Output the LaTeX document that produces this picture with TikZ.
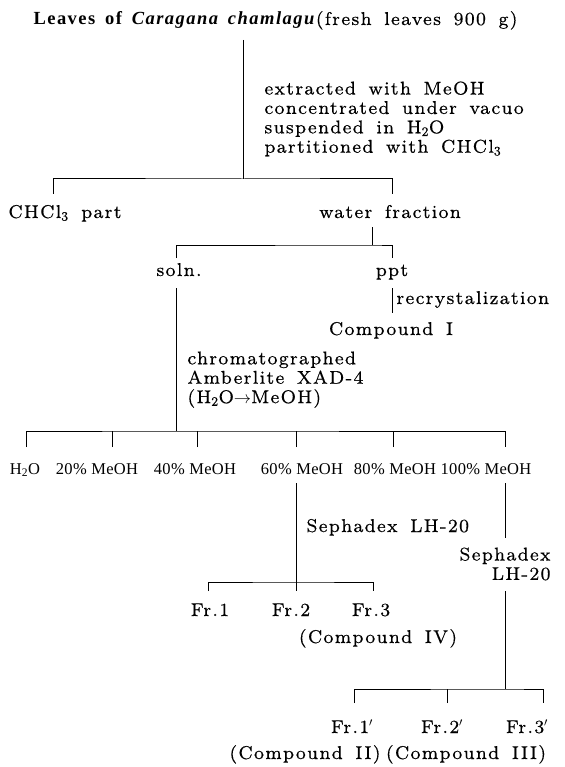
\documentclass[tikz,border=0pt]{standalone}
\usepackage{fontspec}
\setmainfont{lmroman8}[Extension=.otf, UprightFont=*-regular, BoldFont=lmroman10-bold, ItalicFont=lmroman10-italic, BoldItalicFont=lmroman10-bolditalic, LetterSpace=7.5, WordSpace=1.6, FakeBold=0.4]
\newfontfamily\titlefont{Liberation Serif}[LetterSpace=8, WordSpace=1.6]
\newfontfamily\labfont{Liberation Serif}[LetterSpace=2]
\newcommand\mainsz{\fontsize{18.5}{19.4}\selectfont}
\begin{document}
\begin{tikzpicture}[x=1pt,y=-1pt,line width=1pt,
  main/.style={inner sep=0pt, font=\mainsz},
  frac/.style={inner sep=0pt, font=\labfont\fontsize{16.5}{18}\selectfont, anchor=base}]
\useasboundingbox (0,0) rectangle (564,767);
% title
\node[inner sep=0pt, anchor=base west] (title) at (33,25)
  {{\titlefont\fontsize{18.5}{20}\selectfont\textbf{Leaves of \textit{Caragana chamlagu}}}{\mainsz(fresh leaves 900 g)}};
% level 1
\coordinate (t1) at (243,40);
\coordinate (j1) at (243,179);
\draw (t1) -- (j1);
\node[main, anchor=north west, align=left] (cond1) at (264,81)
  {extracted with MeOH\\concentrated under vacuo\\suspended in H\textsubscript{2}O\\partitioned with CHCl\textsubscript{3}};
\node[main, anchor=base west] (chcl) at (8,218) {CHCl\textsubscript{3} part};
\node[main, anchor=base] (water) at (390,218) {water fraction};
\coordinate (k1a) at (53,194);
\coordinate (k1b) at (392,194);
\draw (k1a) |- (j1) -| (k1b);
% level 2
\coordinate (w1) at (372,227);
\coordinate (j2) at (372,245);
\draw (w1) -- (j2);
\node[main, anchor=base] (soln) at (179,276) {soln.};
\node[main, anchor=base] (ppt) at (392,276) {ppt};
\coordinate (k2a) at (176,258);
\coordinate (k2b) at (392,258);
\draw (k2a) |- (j2) -| (k2b);
% ppt branch
\coordinate (p1) at (392,288);
\coordinate (p2) at (392,313);
\draw (p1) -- (p2);
\node[main, anchor=base west] (recr) at (396,304) {recrystalization};
\node[main, anchor=base] (cmpI) at (391,335) {Compound I};
% soln branch
\coordinate (s0) at (176,288);
\coordinate (j3) at (176,431);
\draw (s0) -- (j3);
\node[main, anchor=north west, align=left] (cond2) at (187,351)
  {chromatographed\\Amberlite XAD-4\\(H\textsubscript{2}O$\rightarrow$MeOH)};
\coordinate (f0) at (26,447);
\coordinate (f1) at (112,447);
\coordinate (f2) at (197,447);
\coordinate (f3) at (296,447);
\coordinate (f4) at (393,447);
\coordinate (f5) at (505,447);
\draw (f0) |- (j3) -| (f5);
\draw (f1) -- (f1 |- j3);
\draw (f2) -- (f2 |- j3);
\draw (f3) -- (f3 |- j3);
\draw (f4) -- (f4 |- j3);
\node[frac] (h2o) at (25,474) {H\textsubscript{2}O};
\node[frac] (m20) at (97,474) {20\% MeOH};
\node[frac] (m40) at (195,474) {40\% MeOH};
\node[frac] (m60) at (302,474) {60\% MeOH};
\node[frac] (m80) at (395,474) {80\% MeOH};
\node[frac] (m100) at (486,474) {100\% MeOH};
% 60% branch
\coordinate (s1) at (296,483);
\coordinate (j4) at (296,582);
\coordinate (g2) at (296,591);
\draw (s1) -- (g2);
\node[main, anchor=base west] (seph1) at (306,532) {Sephadex LH-20};
\coordinate (g1) at (208,591);
\coordinate (g3) at (373,591);
\draw (g1) |- (j4) -| (g3);
\node[main, anchor=base] (fr1) at (210,616) {Fr.1};
\node[main, anchor=base] (fr2) at (291,616) {Fr.2};
\node[main, anchor=base] (fr3) at (371,616) {Fr.3};
\node[main, anchor=base] (cmpIV) at (378,643) {(Compound IV)};
% 100% branch
\coordinate (u1) at (505,483);
\coordinate (u2) at (505,538);
\draw (u1) -- (u2);
\node[main, anchor=north east, align=right] (seph2) at (551,547) {Sephadex\\LH-20};
\coordinate (u3) at (505,591);
\coordinate (j5) at (505,689);
\draw (u3) -- (j5);
\coordinate (h1) at (354,703);
\coordinate (h2) at (447,703);
\coordinate (h3) at (543,703);
\draw (h1) |- (j5) -| (h3);
\draw (h2) -- (h2 |- j5);
\node[main, anchor=base] (fr1p) at (352,733) {Fr.1$'$};
\node[main, anchor=base] (fr2p) at (442,733) {Fr.2$'$};
\node[main, anchor=base] (fr3p) at (527,733) {Fr.3$'$};
\node[main, anchor=base] (cmpII) at (305,759) {(Compound II)};
\node[main, anchor=base] (cmpIII) at (466,759) {(Compound III)};
\end{tikzpicture}
\end{document}
